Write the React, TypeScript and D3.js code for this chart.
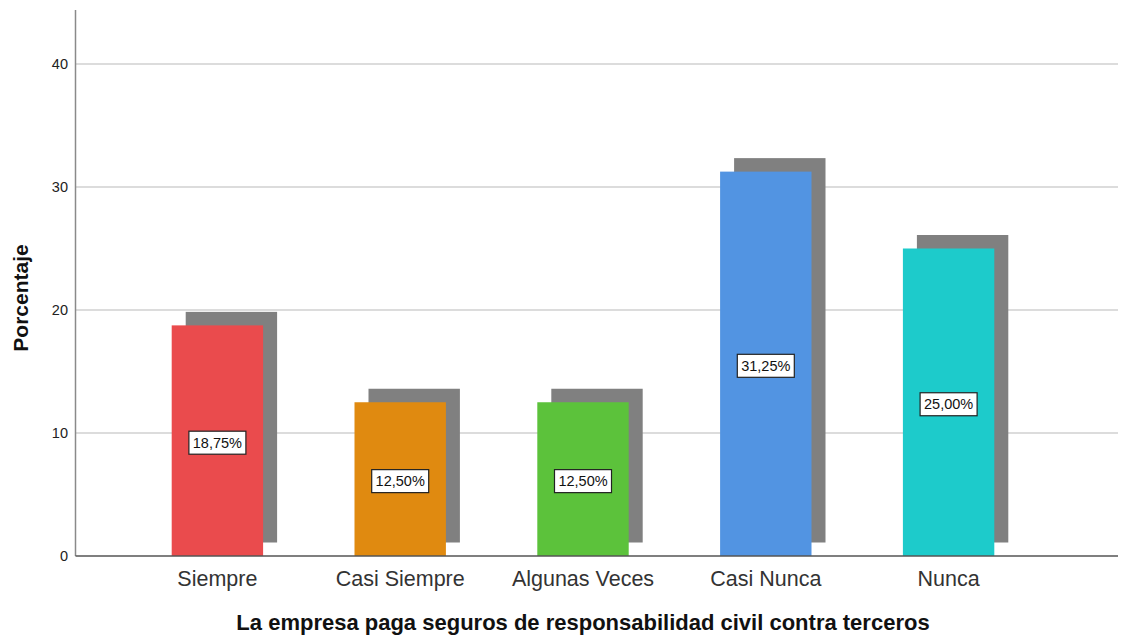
import React from "react";
import * as d3 from "d3";

const categories: string[] = ["Siempre", "Casi Siempre", "Algunas Veces", "Casi Nunca", "Nunca"];
const percentages: number[] = [18.75, 12.5, 12.5, 31.25, 25.0];
const barColors: string[] = ["#EA4B4D", "#E08A10", "#5CC23B", "#5294E2", "#1DCBCB"];
const yTicks: number[] = [0, 10, 20, 30, 40];
const xTitle = "La empresa paga seguros de responsabilidad civil contra terceros";
const yTitle = "Porcentaje";

const W = 1133;
const H = 636;
const plotLeft = 75.5;
const plotRight = 1118;
const plotTop = 10;
const plotBottom = 556;
const shadowDx = 14;
const shadowDy = 13.5;

export default function App() {
  const y = d3.scaleLinear().domain([0, 44.39]).range([plotBottom, plotTop]);
  const x = d3
    .scaleBand<string>()
    .domain(categories)
    .range([126, 1040])
    .paddingInner(0.5)
    .paddingOuter(0.25);
  const bw = x.bandwidth();
  const fmt = (v: number) => v.toFixed(2).replace(".", ",") + "%";
  const font = "'Liberation Sans', Arial, sans-serif";

  return (
    <div style={{ position: "absolute", left: 0, top: 0 }}>
      <svg width={W} height={H} style={{ display: "block", background: "#fff" }} fontFamily={font}>
        {yTicks.filter((t) => t > 0).map((t) => (
          <line key={"g" + t} x1={plotLeft} x2={plotRight} y1={y(t)} y2={y(t)} stroke="#d0d0d0" strokeWidth={1.5} />
        ))}
        {yTicks.map((t) => (
          <text key={"t" + t} x={68} y={y(t)} dy="0.35em" textAnchor="end" fontSize={14.5} fill="#222">
            {t}
          </text>
        ))}
        {categories.map((c, i) => {
          const x0 = x(c)!;
          const v = percentages[i];
          return (
            <g key={c}>
              <rect
                x={x0 + shadowDx}
                y={y(v) - shadowDy}
                width={bw}
                height={y(0) - y(v)}
                fill="#808080"
              />
              <rect x={x0} y={y(v)} width={bw} height={y(0) - y(v)} fill={barColors[i]} />
            </g>
          );
        })}
        <line x1={plotLeft} x2={plotLeft} y1={plotTop} y2={plotBottom} stroke="#8a8a8a" strokeWidth={1.5} />
        <line x1={plotLeft} x2={plotRight} y1={plotBottom} y2={plotBottom} stroke="#555" strokeWidth={1.5} />
        {categories.map((c, i) => {
          const cx = x(c)! + bw / 2;
          const cy = y(percentages[i] / 2) + 2;
          const bwid = 57;
          const bh = 23;
          return (
            <g key={"l" + c}>
              <rect x={cx - bwid / 2} y={cy - bh / 2} width={bwid} height={bh} fill="#fff" stroke="#222" strokeWidth={1.2} />
              <text x={cx} y={cy} dy="0.36em" textAnchor="middle" fontSize={14.5} fill="#111">
                {fmt(percentages[i])}
              </text>
            </g>
          );
        })}
        {categories.map((c) => (
          <text key={"x" + c} x={x(c)! + bw / 2} y={586} textAnchor="middle" fontSize={21.5} fill="#333">
            {c}
          </text>
        ))}
        <text x={583} y={630} textAnchor="middle" fontSize={22} fontWeight="bold" fill="#111">
          {xTitle}
        </text>
        <text
          transform={`translate(28,298) rotate(-90)`}
          textAnchor="middle"
          fontSize={21}
          fontWeight="bold"
          fill="#111"
        >
          {yTitle}
        </text>
      </svg>
    </div>
  );
}
